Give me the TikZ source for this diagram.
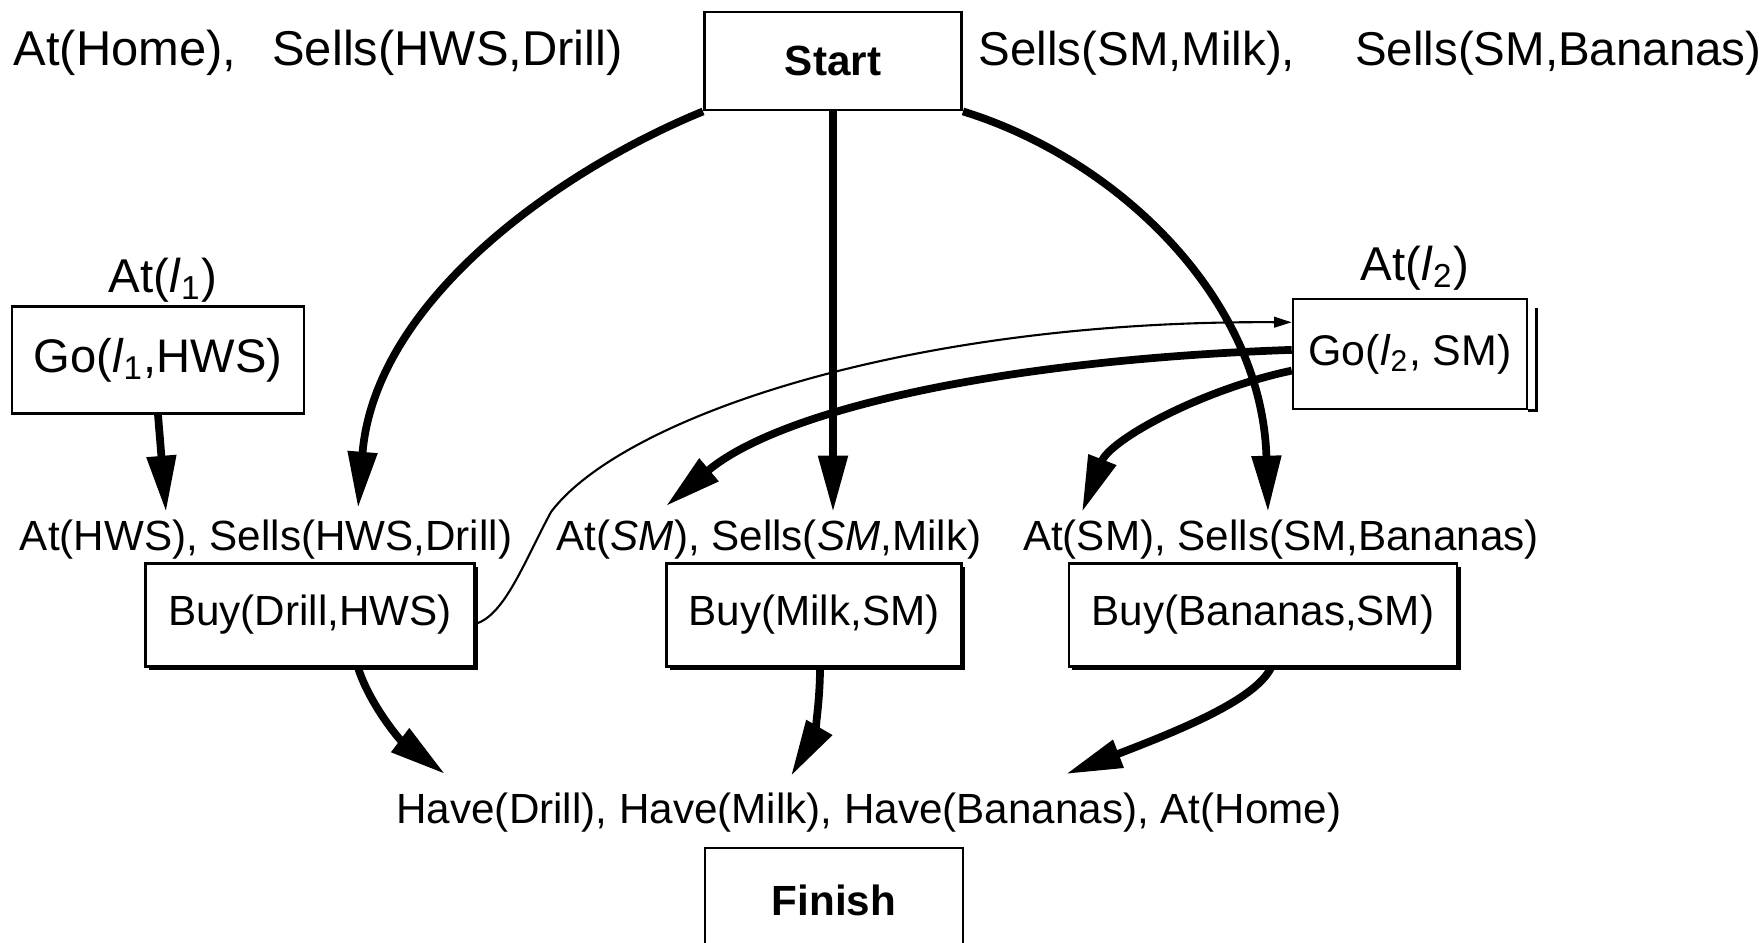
\documentclass[tikz,border=0pt]{standalone}
\usepackage{fontspec}
\setmainfont{Liberation Sans}
\usetikzlibrary{arrows.meta,shadows}

\begin{document}
\begin{tikzpicture}[x=0.01cm,y=-0.01cm,
  action/.style={draw,line width=0.7pt,fill=white,inner sep=0pt,font=\fontsize{13.4}{16}\selectfont},
  buybox/.style={action,font=\fontsize{12}{14}\selectfont,
    general shadow={fill=black,shadow xshift=1pt,shadow yshift=-1pt}},
  endbox/.style={draw,line width=0.8pt,fill=white,inner sep=0pt,font=\fontsize{12}{14}\selectfont\bfseries},
  cond/.style={inner sep=0pt,font=\fontsize{12}{14}\selectfont},
  bigcond/.style={inner sep=0pt,font=\fontsize{13.5}{16}\selectfont},
  link/.style={line width=2.2pt,-{Triangle[length=16pt,width=8pt]}},
  order/.style={line width=0.6pt,-{Triangle[length=5pt,width=3pt]}}]
  \useasboundingbox (0,0) rectangle (1763,942);
  \clip (0,0) rectangle (1763,942);

  % start and finish
  \node [bigcond,font=\fontsize{13.9}{16}\selectfont,anchor=west] (init1) at (13,53) {At(Home),\hspace{0.36cm}Sells(HWS,Drill)};
  \node [bigcond,anchor=west] (init2) at (978,53) {Sells(SM,Milk),\hspace{0.6cm}Sells(SM,Bananas)};
  \node [endbox,minimum width=2.57cm,minimum height=0.98cm] (start) at (833,61) {Start};
  \node [cond] (goal) at (869,813) {Have(Drill), Have(Milk), Have(Bananas), At(Home)};
  \node [endbox,minimum width=2.58cm,minimum height=1.04cm] (finish) at (834,900) {Finish};

  % go actions
  \node [bigcond] (at1) at (163,280) {At(\textit{l}\textsubscript{1})};
  \node [action,minimum width=2.92cm,minimum height=1.07cm] (go1) at (158,360) {Go(\textit{l}\textsubscript{1},HWS)};
  \node [bigcond] (at2) at (1415,268) {At(\textit{l}\textsubscript{2})};
  \node [action,font=\fontsize{12.2}{14}\selectfont,minimum width=2.34cm,minimum height=1.1cm] (go2) at (1410,354) {Go(\textit{l}\textsubscript{2}, SM)};
  \draw [line width=0.9pt] ([xshift=0.08cm,yshift=-0.1cm]go2.north east) -- ([xshift=0.08cm]go2.south east) -- (go2.south east);

  % buy actions
  \node [cond] (pre1) at (266,540) {At(HWS), Sells(HWS,Drill)};
  \node [cond] (pre2) at (769,540) {At(\textit{SM}), Sells(\textit{SM},Milk)};
  \node [cond] (pre3) at (1281,540) {At(SM), Sells(SM,Bananas)};
  \node [buybox,minimum width=3.29cm,minimum height=1.03cm] (buy1) at (310,615) {Buy(Drill,HWS)};
  \node [buybox,minimum width=2.95cm,minimum height=1.03cm] (buy2) at (814,615) {Buy(Milk,SM)};
  \node [buybox,minimum width=3.88cm,minimum height=1.03cm] (buy3) at (1263,615) {Buy(Bananas,SM)};

  % arrow tips at the preconditions
  \coordinate (hws) at (358,508);
  \coordinate (milk) at (833,512);
  \coordinate (bananas) at (1268,512);
  \coordinate (athws) at (166,512);
  \coordinate (atsm) at (666,506);
  \coordinate (atsm2) at (1082,512);
  \coordinate (havedrill) at (445,774);
  \coordinate (havemilk) at (791,776);
  \coordinate (havebananas) at (1066,774);

  % causal links
  \draw [link] (start.south west) .. controls (560,170) and (375,300) .. (hws);
  \draw [link] (start.south) -- (milk);
  \draw [link] (start.south east) .. controls (1120,160) and (1262,300) .. (bananas);
  \draw [link] (go1.south) -- (athws);
  \draw [link] (go2.178) .. controls (1000,360) and (780,410) .. (atsm);
  \draw [link] (go2.188) .. controls (1200,390) and (1110,440) .. (atsm2);
  \draw [link] ([xshift=0.48cm]buy1.south) .. controls (370,705) and (400,740) .. (havedrill);
  \draw [link] ([xshift=0.06cm]buy2.south) .. controls (820,710) and (812,740) .. (havemilk);
  \draw [link] ([xshift=0.08cm]buy3.south) .. controls (1255,700) and (1180,730) .. (havebananas);

  % ordering
  \draw [order] (buy1.-3) .. controls (505,615) and (525,560) .. (551,512)
    .. controls (620,420) and (900,320) .. (go2.165);
\end{tikzpicture}
\end{document}
